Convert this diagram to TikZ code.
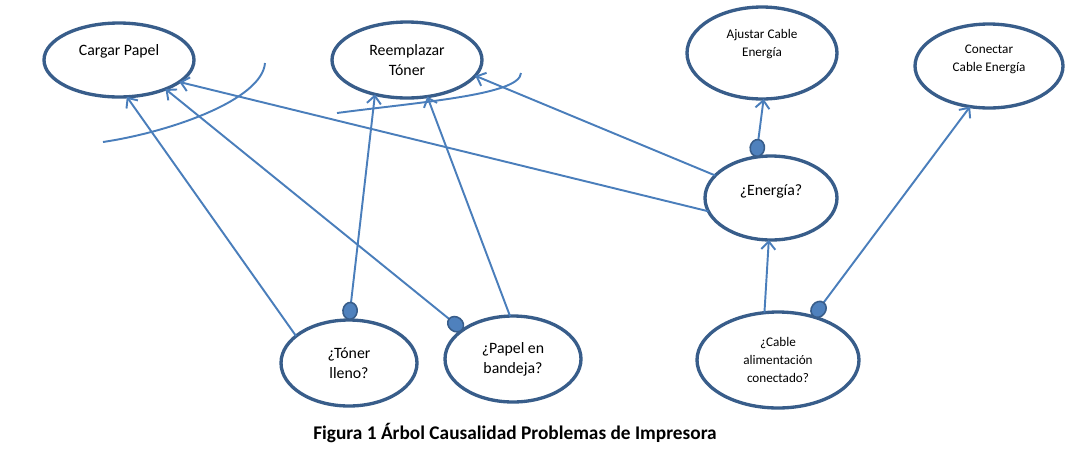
\documentclass[tikz,border=0pt]{standalone}
\usepackage{fontspec}
\setmainfont{Carlito}
\usetikzlibrary{shapes.geometric,arrows.meta}
\definecolor{lineblue}{HTML}{4A7EBB}
\definecolor{ellblue}{HTML}{385D8A}
\definecolor{dotblue}{HTML}{4F81BD}
\tikzset{
  ell/.style={ellipse, draw=ellblue, line width=1.9pt, inner sep=0pt, outer sep=0pt, align=center, font=\fontsize{9}{11.5}\selectfont},
  ellsmall/.style={ell, font=\fontsize{7.5}{10.2}\selectfont},
  conn/.style={draw=lineblue, line width=1.1pt, -{Straight Barb[length=4.5pt,width=8pt]}},
  dotconn/.style={draw=lineblue, line width=1.1pt, {Circle[length=10.5pt,width=9pt,color=ellblue,fill=dotblue,line width=0.9pt]}-{Straight Barb[length=4.5pt,width=8pt]}},
  arcline/.style={draw=lineblue, line width=1.1pt},
}
\begin{document}
\begin{tikzpicture}[x=0.02cm, y=-0.02cm]
\useasboundingbox (0,0) rectangle (1092,461);
\node[ell, minimum width=3cm, minimum height=1.48cm, text depth=11pt] (cargar) at (119,60) {Cargar Papel};
\node[ell, minimum width=3cm, minimum height=1.52cm] (reemplazar) at (407,60) {Reemplazar\\Tóner};
\node[ellsmall, minimum width=3cm, minimum height=1.84cm, text depth=11pt] (ajustar) at (762,53) {Ajustar Cable\\Energía};
\node[ellsmall, minimum width=2.96cm, minimum height=1.68cm, text depth=8.8pt] (conectar) at (989,66) {Conectar\\Cable Energía};
\node[ell, minimum width=2.64cm, minimum height=1.68cm, text depth=8.8pt] (energia) at (771,198) {¿Energía?};
\node[ell, minimum width=2.72cm, minimum height=1.72cm] (toner) at (349,363) {¿Tóner\\lleno?};
\node[ell, minimum width=2.72cm, minimum height=1.72cm] (bandeja) at (513,359) {¿Papel en\\bandeja?};
\node[ellsmall, minimum width=3.24cm, minimum height=1.92cm] (cable) at (778,360) {¿Cable\\alimentación\\conectado?};

\draw[conn] (toner.153.8) -- (cargar.282.7);
\draw[dotconn] (toner.90) -- (reemplazar.227.4);
\draw[dotconn] (bandeja.150.4) -- (cargar.328.7);
\draw[conn] (bandeja.94) -- (reemplazar.299.6);
\draw[conn] (energia.192.5) -- (cargar.340.2);
\draw[conn] (energia.158.4) -- (reemplazar.347.6);
\draw[dotconn] (energia.110) -- (ajustar.272);
\draw[conn] (cable.106.6) -- (energia.267);
\draw[dotconn] (cable.51) -- (conectar.245.7);

\draw[arcline] (103,142) .. controls (170,132) and (262,100) .. (265,63);
\draw[arcline] (337,113) .. controls (420,102) and (520,95) .. (521,73);

\node[font=\bfseries\fontsize{11}{13}\selectfont] (caption) at (515,433) {Figura 1 Árbol Causalidad Problemas de Impresora};
\end{tikzpicture}
\end{document}
